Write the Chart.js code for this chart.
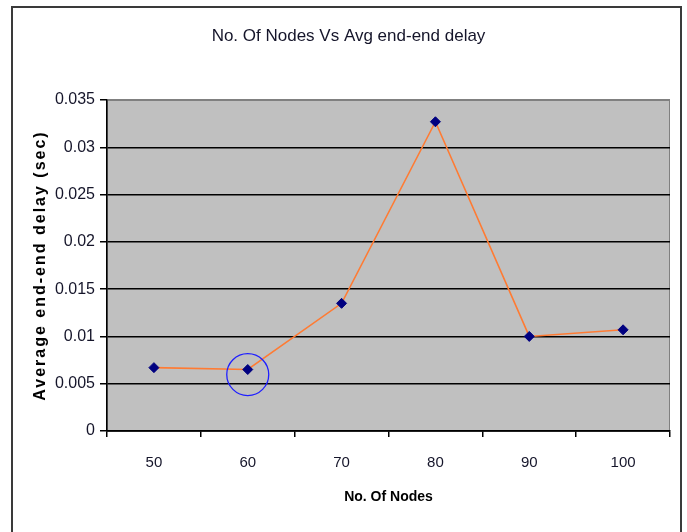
<!DOCTYPE html>
<html>
<head>
<meta charset="utf-8">
<title>No. Of Nodes Vs Avg end-end delay</title>
<script src="https://cdn.jsdelivr.net/npm/chart.js@4/dist/chart.umd.min.js"></script>
<style>
  html, body { margin: 0; padding: 0; background: #ffffff; }
  #wrap { width: 687px; height: 532px; position: relative; }
  canvas { display: block; }
</style>
</head>
<body>
<div id="wrap"><canvas id="chart" width="687" height="532"></canvas></div>
<script>
// Number of nodes in the simulated network
const nodeCounts = ['50', '60', '70', '80', '90', '100'];
// Average end-to-end delay measured for each node count (seconds)
const avgDelay = [0.0067, 0.0065, 0.0135, 0.0327, 0.0100, 0.0107];
// Delay axis tick values
const delayTicks = [0, 0.005, 0.01, 0.015, 0.02, 0.025, 0.03, 0.035];
// Node count whose result is circled
const highlightedNodes = '60';

const FONT = "'Liberation Sans', Arial, sans-serif";
const TEXT = '#15152a';

// Grey plot background with a thin grey frame on top and right
const plotBackground = {
  id: 'plotBackground',
  beforeDraw(chart) {
    const { ctx, chartArea: a } = chart;
    ctx.save();
    ctx.fillStyle = '#c0c0c0';
    ctx.fillRect(a.left, a.top, a.right - a.left, a.bottom - a.top);
    ctx.strokeStyle = '#808080';
    ctx.lineWidth = 1;
    ctx.strokeRect(a.left + 0.5, a.top + 0.5, a.right - a.left - 1, a.bottom - a.top);
    ctx.restore();
  }
};

// Wider letter spacing for the delay axis title
const spacedAxisTitle = {
  id: 'spacedAxisTitle',
  beforeDraw(chart) {
    const s = chart.scales.y;
    if (!s || s._spacedTitle) return;
    const drawTitle = s.drawTitle;
    s.drawTitle = function () {
      const c = this.ctx;
      c.save();
      c.letterSpacing = '2px';
      drawTitle.call(this);
      c.restore();
    };
    s._spacedTitle = true;
  }
};

// Dark frame around the whole figure (open at the bottom edge)
const outerFrame = {
  id: 'outerFrame',
  afterDraw(chart) {
    const ctx = chart.ctx;
    ctx.save();
    ctx.strokeStyle = '#3a3a3a';
    ctx.lineWidth = 2;
    ctx.beginPath();
    ctx.moveTo(12, chart.height + 5);
    ctx.lineTo(12, 7);
    ctx.lineTo(681, 7);
    ctx.lineTo(681, chart.height + 5);
    ctx.stroke();
    ctx.restore();
  }
};

// Blue ring drawn around the highlighted data point
const highlightRing = {
  id: 'highlightRing',
  afterDatasetsDraw(chart) {
    const idx = nodeCounts.indexOf(highlightedNodes);
    if (idx < 0) return;
    const pt = chart.getDatasetMeta(0).data[idx];
    const ctx = chart.ctx;
    ctx.save();
    ctx.strokeStyle = '#1f1fff';
    ctx.lineWidth = 1.3;
    ctx.beginPath();
    ctx.arc(pt.x, pt.y + 5, 21, 0, Math.PI * 2);
    ctx.stroke();
    ctx.restore();
  }
};

new Chart(document.getElementById('chart'), {
  type: 'line',
  data: {
    labels: nodeCounts,
    datasets: [{
      label: 'Avg end-end delay',
      data: avgDelay,
      borderColor: '#ff7b33',
      borderWidth: 1.6,
      pointStyle: 'rectRot',
      pointRadius: 5,
      pointBackgroundColor: '#000080',
      pointBorderColor: '#000080',
      pointBorderWidth: 1,
      tension: 0
    }]
  },
  options: {
    responsive: false,
    animation: false,
    layout: { padding: { left: 27, right: 17, top: 0, bottom: 0 } },
    plugins: {
      legend: { display: false },
      tooltip: { enabled: false },
      title: {
        display: true,
        text: 'No. Of Nodes Vs Avg end-end delay',
        color: TEXT,
        font: { family: FONT, size: 17, weight: 'normal', lineHeight: 1.2 },
        padding: { top: 26, bottom: 53.6 }
      }
    },
    scales: {
      x: {
        type: 'category',
        offset: true,
        afterFit(scale) { scale.height = 101; },
        grid: {
          offset: true,
          drawOnChartArea: false,
          color: '#000000',
          lineWidth: 1.5,
          tickLength: 6,
          tickColor: '#000000'
        },
        border: { display: true, color: '#000000', width: 1.5 },
        ticks: {
          color: TEXT,
          font: { family: FONT, size: 15 },
          padding: 17,
          maxRotation: 0
        },
        title: {
          display: true,
          text: 'No. Of Nodes',
          color: '#000000',
          font: { family: FONT, size: 14, weight: 'bold', lineHeight: 1.2 },
          padding: { top: 0, bottom: 26.6 }
        }
      },
      y: {
        min: 0,
        max: 0.035,
        afterFit(scale) { scale.width = 80; },
        afterBuildTicks(scale) { scale.ticks = delayTicks.map(v => ({ value: v })); },
        grid: {
          color: ctx => (ctx.tick && ctx.tick.value >= 0.035 ? '#808080' : '#000000'),
          lineWidth: 1.5,
          tickLength: 7,
          tickColor: '#000000'
        },
        border: { display: true, color: '#000000', width: 1.5 },
        ticks: {
          color: TEXT,
          font: { family: FONT, size: 16 },
          padding: 5,
          callback: v => String(Number(v.toFixed(3)))
        },
        title: {
          display: true,
          text: 'Average end-end delay (sec)',
          color: '#000000',
          font: { family: FONT, size: 16, weight: 'bold', lineHeight: 1.2 },
          padding: { top: 4.4, bottom: 0 }
        }
      }
    }
  },
  plugins: [plotBackground, spacedAxisTitle, highlightRing, outerFrame]
});
</script>
</body>
</html>
